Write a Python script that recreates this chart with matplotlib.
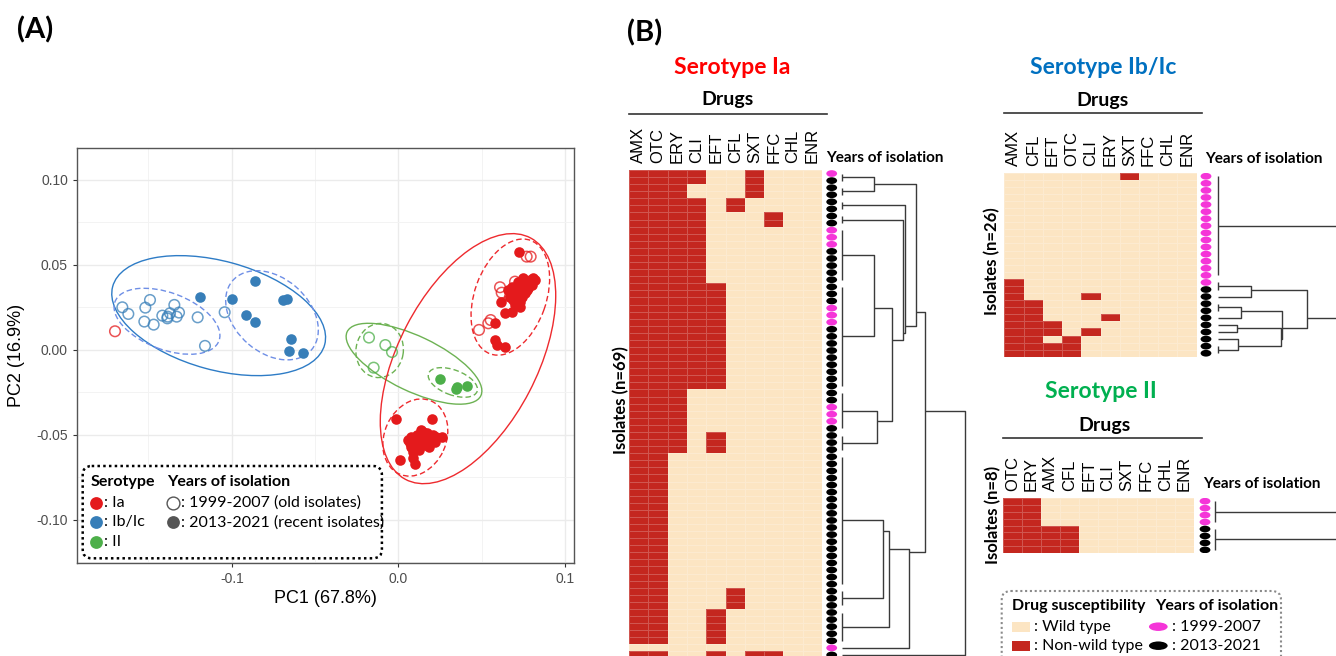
import numpy as np
import matplotlib
matplotlib.use("Agg")
import matplotlib.pyplot as plt
from matplotlib.patches import Ellipse, FancyBboxPatch, Rectangle
from matplotlib.colors import ListedColormap

plt.rcParams['font.family'] = ['Lato', 'DejaVu Sans']

W, H = 1336, 656

# ========================================================================
# panel A data (PC1, PC2)

ia_old_pc1 = [-0.1701, 0.0769, 0.0793, 0.0609, 0.0619, 0.0699, 0.0553, 0.0539, 0.0483, 0.0669, 0.0749]
ia_old_pc2 = [0.0110, 0.0549, 0.0549, 0.0369, 0.0337, 0.0402, 0.0176, 0.0157, 0.0118, 0.0314, 0.0373]

ia_new_pc1 = [0.0723, 0.0579, 0.0579, 0.0589, 0.0639, 0.0613, 0.0639, 0.0679, 0.0729,
              0.0669, 0.0689, 0.0709, 0.0729, 0.0749, 0.0769, 0.0789, 0.0809, 0.0819,
              0.0689, 0.0709, 0.0739, 0.0759, 0.0779, 0.0799, 0.0659, 0.0679, 0.0719,
              0.0749, 0.0729, 0.0699, 0.0769,
              -0.0014, 0.0200, 0.0009, 0.0101, 0.0263, 0.0090, 0.0067, 0.0078, 0.0113,
              0.0148, 0.0170, 0.0136, 0.0159, 0.0101, 0.0055, 0.0124, 0.0194, 0.0217,
              0.0182, 0.0148, 0.0090, 0.0113, 0.0205, 0.0078, 0.0136, 0.0170, 0.0228]
ia_new_pc2 = [0.0578, 0.0157, 0.0059, 0.0029, 0.0020, 0.0284, 0.0220, 0.0225, 0.0255,
              0.0314, 0.0333, 0.0353, 0.0373, 0.0392, 0.0402, 0.0412, 0.0422, 0.0412,
              0.0294, 0.0304, 0.0314, 0.0333, 0.0363, 0.0382, 0.0353, 0.0373, 0.0402,
              0.0422, 0.0284, 0.0265, 0.0353,
              -0.0406, -0.0408, -0.0647, -0.0671, -0.0510, -0.0637, -0.0549, -0.0510, -0.0500,
              -0.0480, -0.0490, -0.0529, -0.0559, -0.0578, -0.0529, -0.0588, -0.0520, -0.0539,
              -0.0569, -0.0510, -0.0598, -0.0549, -0.0500, -0.0569, -0.0471, -0.0539, -0.0510]

ib_old_pc1 = [-0.1657, -0.1621, -0.1491, -0.1519, -0.1525, -0.1469, -0.1417, -0.1385,
              -0.1371, -0.1345, -0.1331, -0.1317, -0.1205, -0.1161, -0.1043, -0.1387]
ib_old_pc2 = [0.0251, 0.0212, 0.0294, 0.0249, 0.0167, 0.0149, 0.0202, 0.0196,
              0.0216, 0.0265, 0.0196, 0.0220, 0.0192, 0.0024, 0.0222, 0.0186]
ib_new_pc1 = [-0.1191, -0.1001, -0.0863, -0.0695, -0.0667, -0.0917, -0.0861, -0.0643, -0.0659, -0.0571]
ib_new_pc2 = [0.0310, 0.0302, 0.0406, 0.0294, 0.0302, 0.0204, 0.0167, 0.0065, -0.0006, -0.0020]

ii_old_pc1 = [-0.0177, -0.0079, -0.0039, -0.0149]
ii_old_pc2 = [0.0073, 0.0029, -0.0012, -0.0104]
ii_new_pc1 = [0.0249, 0.0345, 0.0349, 0.0409]
ii_new_pc2 = [-0.0171, -0.0229, -0.0216, -0.0212]

# ellipses: serotype, line style, centre x, centre y, width, height, angle
ellipse_sero = ["Ib", "Ib", "Ib", "II", "II", "II", "Ia", "Ia", "Ia"]
ellipse_style = ["-", "--", "--", "-", "--", "--", "-", "--", "--"]
ellipse_cx = [-0.1079, -0.1389, -0.0759, 0.0093, -0.0113, 0.0326, 0.0417, 0.0671, 0.0101]
ellipse_cy = [0.0202, 0.0169, 0.0204, -0.0081, -0.0003, -0.0191, -0.0051, 0.0311, -0.0515]
ellipse_w = [0.1317, 0.0665, 0.0624, 0.0886, 0.0320, 0.0310, 0.1606, 0.0710, 0.0470]
ellipse_h = [0.0640, 0.0335, 0.0441, 0.0324, 0.0284, 0.0147, 0.0832, 0.0430, 0.0370]
ellipse_ang = [-15, -20, -40, -25, 80, -20, 62, 70, 65]

# ========================================================================
# panel B data

ia_drugs = ["AMX", "OTC", "ERY", "CLI", "EFT", "CFL", "SXT", "FFC", "CHL", "ENR"]
ia_n = 69
ia_nonwild = {
    "AMX": [(0, 66), (68, 68)],
    "OTC": [(0, 66), (68, 68)],
    "ERY": [(0, 39)],
    "CLI": [(0, 1), (4, 30)],
    "EFT": [(16, 30), (37, 39), (62, 66), (68, 68)],
    "CFL": [(4, 5), (59, 61)],
    "SXT": [(0, 3), (68, 68)],
    "FFC": [(6, 7), (68, 68)],
}
ia_old_rows = [0, 8, 9, 10, 19, 20, 21, 33, 34, 35, 67]
ia_groups = [(0, 1), (2, 3), (4, 5), (6, 7), (8, 15), (16, 30), (31, 36), (37, 39),
             (40, 58), (59, 61), (62, 66), (67, 67), (68, 68)]
ia_merges = [(0, 1, 98), (4, 5, 98), (6, 7, 107), (14, 15, 152), (3, 16, 185), (2, 17, 190),
             (13, 18, 222), (8, 9, 125), (20, 10, 143), (21, 11, 203), (19, 22, 250), (23, 12, 370)]

ib_drugs = ["AMX", "CFL", "EFT", "OTC", "CLI", "ERY", "SXT", "FFC", "CHL", "ENR"]
ib_n = 26
ib_nonwild = {
    "AMX": [(15, 25)],
    "CFL": [(18, 25)],
    "EFT": [(21, 22), (24, 25)],
    "OTC": [(23, 25)],
    "CLI": [(17, 17), (22, 22)],
    "ERY": [(20, 20)],
    "SXT": [(0, 0)],
}
ib_old_rows = list(range(0, 16))
ib_groups = [(0, 14), (15, 16), (17, 17), (18, 19), (20, 20), (21, 21), (22, 22), (23, 23), (24, 25)]
ib_merges = [(1, 2, 100), (3, 4, 71), (5, 6, 58), (7, 8, 60), (11, 12, 190), (10, 13, 193),
             (9, 14, 268), (0, 15, 420)]

ii_drugs = ["OTC", "ERY", "AMX", "CFL", "EFT", "CLI", "SXT", "FFC", "CHL", "ENR"]
ii_n = 8
ii_nonwild = {"OTC": [(0, 7)], "ERY": [(0, 7)], "AMX": [(4, 7)], "CFL": [(4, 7)]}
ii_old_rows = [0, 1, 2, 3]
ii_groups = [(0, 3), (4, 7)]
ii_merges = [(0, 1, 420)]

# colours
sero_col = {"Ia": "#E41A1C", "Ib": "#377EB8", "II": "#4DAF4A"}
ell_col = {("Ia", "-"): "#EE2A2E", ("Ia", "--"): "#EE2A2E",
           ("Ib", "-"): "#2E7CC6", ("Ib", "--"): "#6F8FE6",
           ("II", "-"): "#6DB253", ("II", "--"): "#6DB253"}
CREAM = "#FCE5C3"
NWRED = "#C4271F"
PINK = "#F535D8"

fig = plt.figure(figsize=(W / 100, H / 100), dpi=100)


def px_axes(x0, y0, x1, y1, **kw):
    return fig.add_axes([x0 / W, 1 - y1 / H, (x1 - x0) / W, (y1 - y0) / H], **kw)


# ========================================================================
# part one, PCA scatter

ax = px_axes(77, 148, 574, 563)
ax.set_xlim(-0.1929, 0.1053)
ax.set_ylim(-0.1253, 0.1188)
ax.set_axisbelow(True)

for i in range(len(ellipse_cx)):
    ls = "-" if ellipse_style[i] == "-" else (0, (4, 2.2))
    e = Ellipse((ellipse_cx[i], ellipse_cy[i]), ellipse_w[i], ellipse_h[i], angle=ellipse_ang[i],
                fill=False, ec=ell_col[(ellipse_sero[i], ellipse_style[i])], ls=ls, lw=1.0, zorder=2)
    ax.add_patch(e)

for sero, opc1, opc2, npc1, npc2 in [("Ib", ib_old_pc1, ib_old_pc2, ib_new_pc1, ib_new_pc2),
                                     ("II", ii_old_pc1, ii_old_pc2, ii_new_pc1, ii_new_pc2),
                                     ("Ia", ia_old_pc1, ia_old_pc2, ia_new_pc1, ia_new_pc2)]:
    c = sero_col[sero]
    ax.scatter(opc1, opc2, s=58, facecolors="none", edgecolors=c, linewidths=1.1, alpha=0.75, zorder=3)
    ax.scatter(npc1, npc2, s=58, color=c, linewidths=0, zorder=4)

ax.set_xticks([-0.1, 0.0, 0.1])
ax.set_xticklabels(["-0.1", "0.0", "0.1"])
ax.set_yticks([-0.10, -0.05, 0.0, 0.05, 0.10])
ax.set_yticklabels(["-0.10", "-0.05", "0.00", "0.05", "0.10"])
ax.set_xticks([-0.15, -0.05, 0.05], minor=True)
ax.set_yticks([-0.125, -0.075, -0.025, 0.025, 0.075], minor=True)
ax.grid(which="major", color="#EBEBEB", lw=1.0)
ax.grid(which="minor", color="#F3F3F3", lw=0.7)
ax.tick_params(which="major", length=3, color="#333333", labelcolor="#4D4D4D", labelsize=10)
ax.tick_params(which="minor", length=0)
for lab in ax.get_xticklabels() + ax.get_yticklabels():
    lab.set_family("Liberation Sans")
for s in ax.spines.values():
    s.set_color("#555555")
    s.set_linewidth(1.0)
ax.set_xlabel("PC1 (67.8%)", fontsize=13, family="Liberation Sans", labelpad=3)
ax.set_ylabel("PC2 (16.9%)", fontsize=13, family="Liberation Sans", labelpad=8)

# ========================================================================
# part two, heatmaps + dendrograms

cmap = ListedColormap([CREAM, NWRED])


def build_matrix(drugs, n, nonwild):
    m = np.zeros((n, len(drugs)))
    for j, d in enumerate(drugs):
        for a, b in nonwild.get(d, []):
            m[a:b + 1, j] = 1
    return m


def heatmap(box, drugs, n, nonwild):
    hx = px_axes(*box)
    m = build_matrix(drugs, n, nonwild)
    hx.pcolormesh(m, cmap=cmap, vmin=0, vmax=1, edgecolors=(1, 1, 1, 0.22), linewidth=0.5)
    hx.set_xlim(0, len(drugs))
    hx.set_ylim(n, 0)
    hx.xaxis.tick_top()
    hx.set_xticks(np.arange(len(drugs)) + 0.5)
    hx.set_xticklabels(drugs, rotation=90, fontsize=12, family="Liberation Sans")
    hx.tick_params(axis="x", length=0, pad=5)
    hx.set_yticks([])
    for s in hx.spines.values():
        s.set_visible(False)
    return hx


def years(box, n, old_rows):
    yx = px_axes(*box)
    yx.set_xlim(0, 1)
    yx.set_ylim(n, 0)
    yx.axis("off")
    for i in range(n):
        col = PINK if i in old_rows else "black"
        yx.add_patch(Ellipse((0.5, i + 0.5), 0.9, 0.95, color=col, lw=0))


def dendro(box, n, groups, merges, hmax):
    dx = px_axes(*box)
    dx.set_xlim(0, hmax)
    dx.set_ylim(n, 0)
    dx.axis("off")
    kw = dict(color="#3A3A3A", lw=1.0, clip_on=False, solid_capstyle="butt")
    nodes = []
    for a, b in groups:
        leaves = list(np.arange(a, b + 1) + 0.5)
        if b > a:
            dx.plot([0, 0], [leaves[0], leaves[-1]], **kw)
        nodes.append((np.mean(leaves), 0.0, leaves))
    for a, b, h in merges:
        pa, ha, la = nodes[a]
        pb, hb, lb = nodes[b]
        dx.plot([ha, h, h, hb], [pa, pa, pb, pb], **kw)
        leaves = la + lb
        nodes.append((np.mean(leaves), h, leaves))


heatmap((629, 170, 822, 170 + ia_n * 7.08), ia_drugs, ia_n, ia_nonwild)
years((825.7, 170, 837.7, 170 + ia_n * 7.08), ia_n, ia_old_rows)
dendro((841.7, 170, 971.7, 170 + ia_n * 7.08), ia_n, ia_groups, ia_merges, 390)

heatmap((1004.3, 172.7, 1196.7, 172.7 + ib_n * 7.08), ib_drugs, ib_n, ib_nonwild)
years((1200, 172.7, 1212, 172.7 + ib_n * 7.08), ib_n, ib_old_rows)
dendro((1217.7, 172.7, 1336, 172.7 + ib_n * 7.08), ib_n, ib_groups, ib_merges, 355)

heatmap((1002.7, 497.7, 1194, 497.7 + ii_n * 6.96), ii_drugs, ii_n, ii_nonwild)
years((1199, 497.7, 1211, 497.7 + ii_n * 6.96), ii_n, ii_old_rows)
dendro((1215, 497.7, 1336, 497.7 + ii_n * 6.96), ii_n, ii_groups, ii_merges, 363)

# ========================================================================
# overlay in pixel units: panel letters, titles, legends

ov = fig.add_axes([0, 0, 1, 1], zorder=20)
ov.set_xlim(0, W)
ov.set_ylim(H, 0)
ov.axis("off")

ov.text(17, 30, "(A)", fontsize=21, weight="bold", ha="left", va="center")
ov.text(627, 33, "(B)", fontsize=21, weight="bold", ha="left", va="center")

ov.text(732, 68, "Serotype Ia", fontsize=16.5, weight="bold", color="#FF0000", ha="center", va="center")
ov.text(1103, 67.5, "Serotype Ib/Ic", fontsize=16.5, weight="bold", color="#0070C0", ha="center", va="center")
ov.text(1101, 392, "Serotype II", fontsize=16.5, weight="bold", color="#00B050", ha="center", va="center")

for cx, cy, x0, x1, ly in [(727.5, 100, 629, 827, 114), (1102, 100.5, 1004, 1202, 113.3),
                           (1104.5, 425, 1003, 1202, 438.3)]:
    ov.text(cx, cy, "Drugs", fontsize=14, weight="bold", ha="center", va="center")
    ov.plot([x0, x1], [ly, ly], color="#333333", lw=1.2)

for x, y in [(826.5, 157.5), (1205, 159), (1203.3, 484)]:
    ov.text(x, y, "Years of isolation", fontsize=11, weight="bold", ha="left", va="center")

for x, y, s in [(621, 400, "Isolates (n=69)"), (992, 261, "Isolates (n=26)"), (993, 515, "Isolates (n=8)")]:
    ov.text(x, y, s, fontsize=12, weight="bold", rotation=90, ha="center", va="center")

# legend A
ov.add_patch(FancyBboxPatch((82.7, 466), 299.2, 92.3, boxstyle="round,pad=0,rounding_size=9",
                            fc="white", ec="black", ls=(0, (1, 1.3)), lw=1.8))
ov.text(90.4, 481.7, "Serotype", fontsize=11.5, weight="bold", ha="left", va="center")
ov.text(167.3, 481.7, "Years of isolation", fontsize=11.5, weight="bold", ha="left", va="center")
for y, key, lab in [(502.7, "Ia", ": Ia"), (522.3, "Ib", ": Ib/Ic"), (542.3, "II", ": II")]:
    ov.scatter([96.2], [y], s=85, color=sero_col[key], lw=0)
    ov.text(103.5, y, lab, fontsize=11.5, ha="left", va="center")
ov.scatter([173], [502.7], s=85, facecolors="white", edgecolors="#555555", lw=1.0)
ov.scatter([173], [522.3], s=85, color="#555555", lw=0)
ov.text(181, 502.7, ": 1999-2007 (old isolates)", fontsize=11.5, ha="left", va="center")
ov.text(181, 522.3, ": 2013-2021 (recent isolates)", fontsize=11.5, ha="left", va="center")

# legend B
ov.add_patch(FancyBboxPatch((1001.7, 591), 279.3, 80, boxstyle="round,pad=0,rounding_size=9",
                            fc="white", ec="#8A8A8A", ls=(0, (1, 1.3)), lw=1.5))
ov.text(1011.7, 605.8, "Drug susceptibility", fontsize=11.5, weight="bold", ha="left", va="center")
ov.text(1155, 605.8, "Years of isolation", fontsize=11.5, weight="bold", ha="left", va="center")
ov.add_patch(Rectangle((1011.7, 621.7), 18.3, 10, fc=CREAM, lw=0))
ov.add_patch(Rectangle((1011.7, 640.7), 18.3, 10, fc=NWRED, lw=0))
ov.text(1033.5, 626.7, ": Wild type", fontsize=11.5, ha="left", va="center")
ov.text(1033.5, 645.7, ": Non-wild type", fontsize=11.5, ha="left", va="center")
ov.add_patch(Ellipse((1158.3, 626.7), 18.7, 8.5, fc=PINK, lw=0))
ov.add_patch(Ellipse((1158.3, 645.7), 18.7, 8.5, fc="black", lw=0))
ov.text(1171.5, 626.7, ": 1999-2007", fontsize=11.5, ha="left", va="center")
ov.text(1171.5, 645.7, ": 2013-2021", fontsize=11.5, ha="left", va="center")

fig.savefig("out.png", dpi=100)
